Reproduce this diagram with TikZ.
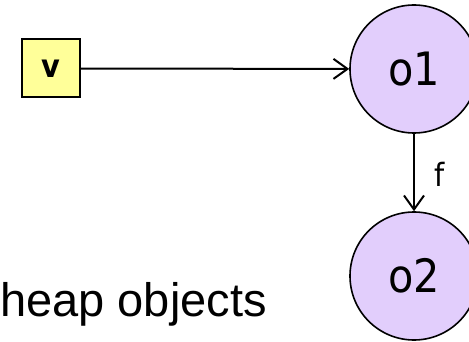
\documentclass[tikz,border=0pt]{standalone}
\usepackage{fontspec}
\setmainfont{Liberation Sans}
\newfontfamily\vfont{DejaVu Sans Condensed}
\usetikzlibrary{arrows.meta}
\definecolor{boxyellow}{RGB}{255,255,153}
\definecolor{objlilac}{RGB}{226,206,252}
\tikzset{
  varbox/.style={draw=black, line width=2pt, fill=boxyellow, minimum width=58pt, minimum height=58pt, inner sep=0pt, font=\vfont\bfseries\fontsize{32}{32}\selectfont},
  objnode/.style={circle, draw=black, line width=1.6pt, fill=objlilac, minimum size=128pt, inner sep=0pt, font=\vfont\fontsize{46}{46}\selectfont},
  ptr/.style={line width=2pt, -{Straight Barb[length=14pt, width=20pt, line width=2pt]}},
}
\begin{document}
\begin{tikzpicture}[x=1pt, y=-1pt]
\clip (0,0) rectangle (469,342);
\fill[white] (0,0) rectangle (469,342);
\node[varbox] (v) at (51,68.5) {v};
\node[objnode] (o1) at (414,69) {o1};
\node[objnode] (o2) at (414,276) {o2};
\draw[ptr] (v) -- (o1);
\draw[ptr] (o1) -- node[right, xshift=16pt, yshift=-2pt, font=\vfont\fontsize{32}{32}\selectfont] (f) {f} (o2);
\node[anchor=base west, inner sep=0pt, font=\fontsize{47}{47}\selectfont] (heap) at (0,316) {heap objects};
\end{tikzpicture}
\end{document}
